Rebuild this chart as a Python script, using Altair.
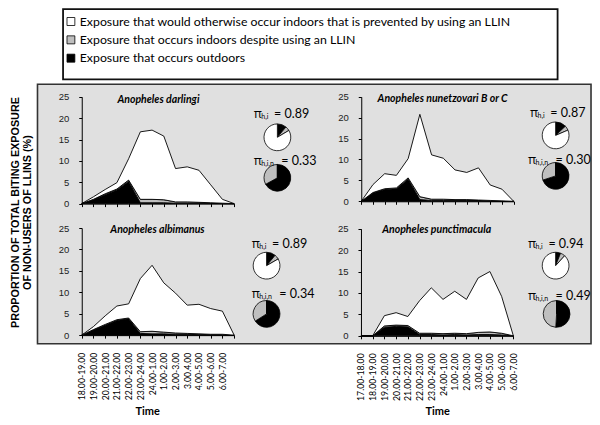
import json
import altair as alt
import pandas as pd

# ---------------- data ----------------
SPECIES = ["Anopheles darlingi", "Anopheles nunetzovari B or C",
           "Anopheles albimanus", "Anopheles punctimacula"]

TIME_LEFT = ["18.00-19.00", "19.00-20.00", "20.00-21.00", "21.00-22.00",
             "22.00-23.00", "23.00-24.00", "24.00-1.00", "1.00-2.00",
             "2.00-3.00", "3.00.4.00", "4.00-5.00", "5.00-6.00", "6.00-7.00", ""]
TIME_RIGHT = ["17.00-18.00", "18.00-19.00", "19.00-20.00", "20.00-21.00",
              "21.00-22.00", "22.00-23.00", "23.00-24.00", "24.00-1.00",
              "1.00-2.00", "2.00-3.00", "3.00.4.00", "4.00-5.00", "5.00-6.00",
              "6.00-7.00"]

# outdoor exposure (black)
darlingi_out = [0, 0.9, 2.1, 3.2, 5.2, 0.2, 0.2, 0.2, 0.1, 0.1, 0.1, 0.1, 0.0, 0]
nunetz_out = [0, 2.0, 2.8, 3.0, 5.3, 0.4, 0.2, 0.2, 0.2, 0.2, 0.2, 0.1, 0.0, 0]
albim_out = [0, 1.2, 2.3, 3.4, 3.8, 0.4, 0.3, 0.3, 0.2, 0.2, 0.1, 0.1, 0.1, 0]
punct_out = [0, 0, 2.0, 2.2, 2.1, 0.3, 0.3, 0.2, 0.3, 0.2, 0.3, 0.3, 0.2, 0]
# indoor exposure despite LLIN (grey)
darlingi_in = [0, 0.1, 0.2, 0.2, 0.3, 0.8, 0.8, 0.7, 0.3, 0.3, 0.2, 0.1, 0.1, 0]
nunetz_in = [0, 0.1, 0.2, 0.2, 0.3, 0.7, 0.3, 0.3, 0.2, 0.2, 0.1, 0.1, 0.1, 0]
albim_in = [0, 0.1, 0.2, 0.2, 0.2, 0.4, 0.6, 0.4, 0.3, 0.2, 0.2, 0.1, 0.1, 0]
punct_in = [0, 0, 0.3, 0.3, 0.3, 0.3, 0.3, 0.3, 0.3, 0.3, 0.5, 0.6, 0.4, 0]
# indoor exposure prevented by LLIN (white)
darlingi_prev = [0, 0.6, 1.0, 1.5, 5.0, 15.8, 16.2, 14.9, 7.8, 8.2, 7.5, 4.2, 0.9, 0]
nunetz_prev = [0, 1.9, 3.6, 3.0, 4.6, 19.7, 10.6, 9.8, 7.1, 6.5, 7.7, 3.7, 2.8, 0]
albim_prev = [0, 0.7, 2.0, 3.2, 3.3, 12.4, 15.4, 11.5, 9.3, 6.6, 6.9, 6.0, 5.4, 0]
punct_prev = [0, 0, 2.4, 2.9, 2.1, 7.6, 10.6, 8.0, 9.8, 8.0, 12.7, 14.1, 8.6, 0]

OUT = [darlingi_out, nunetz_out, albim_out, punct_out]
IN = [darlingi_in, nunetz_in, albim_in, punct_in]
PREV = [darlingi_prev, nunetz_prev, albim_prev, punct_prev]

PI_HI = [0.89, 0.87, 0.89, 0.94]
PI_HIN = [0.33, 0.30, 0.34, 0.49]

LEGEND = ["Exposure that would otherwise occur indoors that is prevented by using an LLIN",
          "Exposure that occurs indoors despite using an LLIN",
          "Exposure that occurs outdoors"]
SERIES = ["prevented", "indoor", "outdoor"]

# ---------------- layout (styles / positions) ----------------
W, H = 584, 409


def X(r):
    return (r - 4) * 584 / 594


def Y(r):
    return (r - 3) * 0.965


PANEL_REF = [dict(x0=79, x1=234, y0=205.7, y25=95),
             dict(x0=363.3, x1=518.3, y0=203.3, y25=95),
             dict(x0=79, x1=234, y0=342, y25=231),
             dict(x0=363, x1=518, y0=342.7, y25=231.7)]
TITLE_REF = [(157, 98), (446, 97), (156, 233), (440, 233)]
PIE1_REF = [(278, 137), (561, 135), (267, 270), (561, 270)]
PIE2_REF = [(278, 179), (561, 177), (267, 320), (562, 320)]
LAB1_REF = [(254, 113), (535, 112), (252, 248), (533, 248)]
LAB2_REF = [(254, 162), (533, 161), (252, 299), (533, 301)]

COLOR = alt.Scale(domain=["outdoor", "indoor", "prevented"],
                  range=["#000000", "#bfbfbf", "#ffffff"])
DUMMY = alt.Data(values=[{"d": 0}])


def txt(s, x, y, size, font="Lato", weight="normal", style="normal",
        align="left", angle=0, color="black"):
    kw = dict(text=s, fontSize=size, font=font, fontWeight=weight,
              fontStyle=style, align=align, baseline="middle", color=color)
    if angle:
        kw["angle"] = angle
    return alt.Chart(DUMMY).mark_text(**kw).encode(x=alt.value(x), y=alt.value(y))


def rect(x1, y1, x2, y2, fill, stroke=None, sw=1.0):
    kw = dict(fill=fill)
    if stroke:
        kw.update(stroke=stroke, strokeWidth=sw)
    return alt.Chart(DUMMY).mark_rect(**kw).encode(
        x=alt.value(x1), x2=alt.value(x2), y=alt.value(y1), y2=alt.value(y2))


def area_layer(k):
    rows = []
    for i in range(14):
        for name, arr, o in (("outdoor", OUT[k], 0), ("indoor", IN[k], 1),
                             ("prevented", PREV[k], 2)):
            rows.append({"i": i, "s": name, "v": arr[i], "o": o})
    df = pd.DataFrame(rows)
    p = PANEL_REF[k]
    xr = [X(p["x0"]), X(p["x1"])]
    yr = [Y(p["y0"]), Y(p["y25"])]
    bottom = k >= 2
    labels = TIME_LEFT if k % 2 == 0 else TIME_RIGHT
    xaxis = alt.Axis(orient="bottom", offset=yr[0] - H, values=list(range(14)),
                     grid=False, tickSize=3, domainColor="black", tickColor="black",
                     domainWidth=1, tickWidth=1, zindex=2,
                     labels=bottom, labelExpr=json.dumps(labels) + "[datum.value]",
                     labelAngle=270, labelAlign="right", labelBaseline="middle",
                     labelFont="Lato", labelFontSize=8.7, labelColor="black",
                     labelPadding=14, labelOverlap=False, labelFlush=False, title=None)
    yaxis = alt.Axis(orient="left", offset=-xr[0], values=[0, 5, 10, 15, 20, 25],
                     grid=False, tickSize=3, domainColor="black", tickColor="black",
                     domainWidth=1, tickWidth=1, zindex=2,
                     labelFont="Liberation Sans", labelFontSize=9.5, labelColor="#222222",
                     labelPadding=10, labelOverlap=False, title=None)
    return alt.Chart(df).mark_area(stroke="black", strokeWidth=0.9).encode(
        x=alt.X("i:Q", scale=alt.Scale(domain=[0, 13], range=xr, nice=False, zero=False),
                axis=xaxis),
        y=alt.Y("v:Q", stack="zero",
                scale=alt.Scale(domain=[0, 25], range=yr, nice=False), axis=yaxis),
        color=alt.Color("s:N", scale=COLOR, legend=None),
        order=alt.Order("o:Q"))


def pie(vals, cx, cy, r):
    df = pd.DataFrame({"s": ["outdoor", "indoor", "prevented"], "v": vals, "o": [0, 1, 2]})
    return alt.Chart(df).mark_arc(radius=r, stroke="black", strokeWidth=0.8).encode(
        x=alt.value(cx), y=alt.value(cy),
        theta=alt.Theta("v:Q", stack=True),
        color=alt.Color("s:N", scale=COLOR, legend=None),
        order=alt.Order("o:Q"))


def pi_label(sub, value, sx, cy):
    x0, y0 = X(sx), Y(cy)
    sub_w = 3.6 * len(sub)
    return [
        txt("π", x0, y0, 12.5, font="Open Sans"),
        txt(sub, x0 + 7.5, y0 + 3, 7, font="Lato"),
        txt("= " + value, x0 + 7.5 + sub_w + 2, y0, 12.5, font="Lato"),
    ]


layers = []
# grey panel box
layers.append(rect(X(34), Y(82), X(597), Y(351), "#e0e0e0", "#333333", 1.6))
# legend box
layers.append(rect(X(60), 1.2, X(563), Y(77), "#ffffff", "#111111", 1.8))
for j, (lab, ser) in enumerate(zip(LEGEND, SERIES)):
    cy = Y([17, 36, 55][j])
    fill = {"prevented": "#ffffff", "indoor": "#bfbfbf", "outdoor": "#000000"}[ser]
    layers.append(rect(X(64), cy - 4, X(72), cy + 4, fill, "#000000", 0.8))
    layers.append(txt(lab, X(77), cy, 12.3, font="Lato"))

for k in range(4):
    layers.append(area_layer(k))
    tx, ty = TITLE_REF[k]
    layers.append(txt(SPECIES[k], X(tx), Y(ty), 10.5, font="Lato", weight="bold",
                      style="italic", align="center"))
    phi, phin = PI_HI[k], PI_HIN[k]
    out1 = 1 - phi
    in1 = out1 * phin / (1 - phin)
    layers.append(pie([out1, in1, 1 - out1 - in1], X(PIE1_REF[k][0]), Y(PIE1_REF[k][1]), 13.4))
    layers.append(pie([1 - phin, phin, 0.0], X(PIE2_REF[k][0]), Y(PIE2_REF[k][1]), 13.4))
    layers += pi_label("h,i", f"{phi:.2f}", *LAB1_REF[k])
    layers += pi_label("h,i,n", f"{phin:.2f}", *LAB2_REF[k])

# axis titles
layers.append(txt("PROPORTION OF TOTAL BITING EXPOSURE", X(12), Y(215), 10.8,
                  font="Liberation Sans", weight="bold", align="center", angle=270))
layers.append(txt("OF NON-USERS OF LLINS (%)", X(24), Y(215), 10.8,
                  font="Liberation Sans", weight="bold", align="center", angle=270))
layers.append(txt("Time", X(146), Y(422), 11, font="Lato", weight="bold", align="center"))
layers.append(txt("Time", X(441), Y(422), 11, font="Lato", weight="bold", align="center"))

chart = alt.layer(*layers).resolve_scale(
    x="independent", y="independent", theta="independent"
).resolve_axis(x="independent", y="independent").properties(
    width=W, height=H, autosize=alt.AutoSizeParams(type="none"), padding=0,
    background="white"
).configure_view(stroke=None)

chart.save("out.html", embed_options={"renderer": "svg", "actions": False})
